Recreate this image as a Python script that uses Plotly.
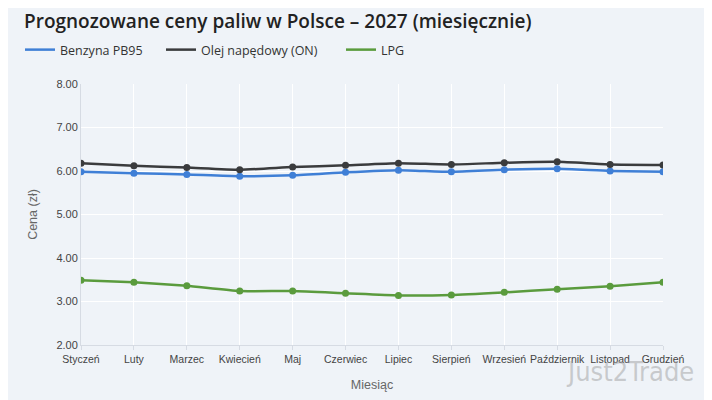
import plotly.graph_objects as go

# dane: prognoza cen paliw 2027 (zł/l)
miesiace = ["Styczeń", "Luty", "Marzec", "Kwiecień", "Maj", "Czerwiec",
            "Lipiec", "Sierpień", "Wrzesień", "Październik", "Listopad", "Grudzień"]
benzyna = [5.98, 5.95, 5.92, 5.88, 5.90, 5.97, 6.02, 5.98, 6.03, 6.05, 6.00, 5.98]
olej = [6.18, 6.12, 6.08, 6.03, 6.09, 6.13, 6.18, 6.15, 6.19, 6.21, 6.15, 6.14]
lpg = [3.49, 3.44, 3.36, 3.24, 3.24, 3.19, 3.14, 3.15, 3.21, 3.28, 3.35, 3.44]

serie = [
    ("Benzyna PB95", benzyna, "#3f7fd6", "legend"),
    ("Olej napędowy (ON)", olej, "#3a3b3d", "legend2"),
    ("LPG", lpg, "#5a9b3d", "legend3"),
]

fig = go.Figure()
for nazwa, wartosci, kolor, leg in serie:
    # linia (w legendzie tylko linia, bez znacznika)
    fig.add_trace(go.Scatter(
        x=miesiace, y=wartosci, name=nazwa, legendgroup=nazwa, legend=leg,
        mode="lines",
        line=dict(color=kolor, width=2.5, shape="spline", smoothing=0.5),
    ))
    fig.add_trace(go.Scatter(
        x=miesiace, y=wartosci, name=nazwa, legendgroup=nazwa,
        mode="markers", showlegend=False,
        marker=dict(color=kolor, size=7),
    ))

# każda pozycja legendy osobno, żeby odstępy były jak w oryginale
font_leg = dict(family="Open Sans, Noto Sans, sans-serif", size=12.5, color="#333")
def legenda(x):
    return dict(orientation="h", xref="container", x=x / 712, xanchor="left",
                yref="container", y=1 - 42 / 400, yanchor="middle", font=font_leg)

fig.update_layout(
    width=712, height=400,
    margin=dict(l=73, r=57, t=76, b=63, autoexpand=False),
    paper_bgcolor="#eff3f8",
    plot_bgcolor="#eff3f8",
    font=dict(family="Liberation Sans, Arial, sans-serif", size=10.5, color="#444"),
    title=dict(
        text="Prognozowane ceny paliw w Polsce – 2027 (miesięcznie)",
        font=dict(family="Open Sans, Noto Sans, sans-serif", size=19, color="#222", weight=600),
        xref="container", x=16 / 712, xanchor="left",
        yref="container", y=1 - 13 / 400, yanchor="middle",
    ),
    legend=legenda(12),
    legend2=legenda(153),
    legend3=legenda(333),
    showlegend=True,
)

fig.update_xaxes(
    title=dict(text="Miesiąc", font=dict(size=12.5, color="#666"), standoff=16),
    showgrid=True, gridcolor="#ffffff", gridwidth=1,
    showline=True, linecolor="#d6dbe3",
    ticks="outside", ticklen=4, tickcolor="#d6dbe3",
    tickangle=0, automargin=False,
    tickfont=dict(size=10.5),
    range=[0, 11],
)
fig.update_yaxes(
    title=dict(text="Cena (zł)", font=dict(size=12.5, color="#666"), standoff=16),
    range=[2, 8], dtick=1, tickformat=".2f",
    tickfont=dict(size=11),
    showgrid=True, gridcolor="#ffffff", gridwidth=1,
    showline=True, linecolor="#d6dbe3",
    zeroline=False, automargin=False,
)

# znak wodny
fig.add_annotation(
    text="Just2Trade", xref="paper", yref="paper",
    x=0.943, y=-0.103, xanchor="center", yanchor="middle",
    showarrow=False,
    font=dict(family="DejaVu Sans Condensed, Liberation Sans, sans-serif", size=27,
              color="rgba(160,160,160,0.5)"),
)

fig.write_html("out.html")
